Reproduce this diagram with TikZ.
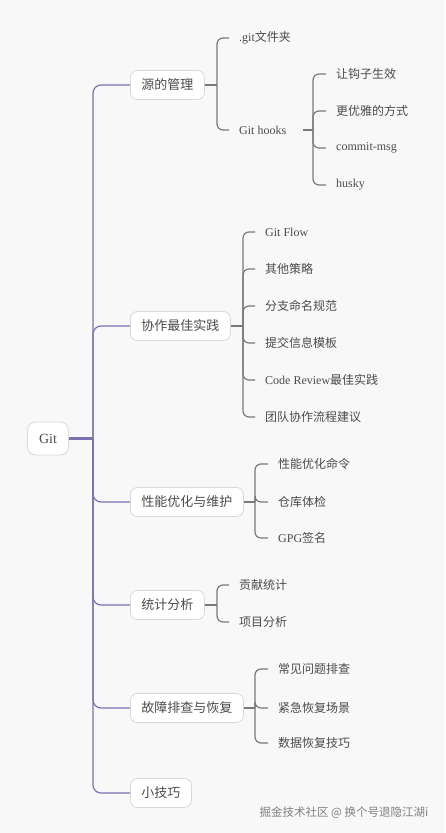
\documentclass[tikz,border=0pt]{standalone}
\usepackage{fontspec}
\setmainfont{Liberation Serif}
\newfontfamily\cjk{Noto Sans CJK SC}
\newcommand{\zh}[1]{{\cjk #1}}
\usetikzlibrary{calc,positioning}
\definecolor{bgcol}{HTML}{F8F8F8}
\definecolor{trunkcol}{HTML}{7B72B2}
\definecolor{branchcol}{HTML}{7A7A7A}
\definecolor{boxcol}{HTML}{D8D8D8}
\definecolor{txtcol}{HTML}{4B4B4B}

\tikzset{
  root/.style={draw=boxcol, fill=white, rounded corners=8pt, line width=0.8pt, minimum width=41pt, minimum height=33pt, text=txtcol, font=\fontsize{14}{16}\selectfont},
  topic/.style={draw=boxcol, fill=white, rounded corners=7pt, line width=0.8pt, inner xsep=11pt, minimum height=29pt, anchor=west, text=txtcol, font=\cjk\fontsize{13}{15}\selectfont},
  leaf/.style={inner xsep=10pt, inner ysep=2pt, anchor=west, text=txtcol, font=\fontsize{12}{14}\selectfont},
  trunk/.style={draw=trunkcol, line width=1.2pt, rounded corners=8pt},
  branch/.style={draw=branchcol, line width=1.2pt, rounded corners=6pt},
}

\begin{document}
\begin{tikzpicture}[x=1pt, y=-1pt]
    \fill[bgcol] (0,0) rectangle (445,833);

    \node (git) [root] at (48,438.5) {Git};

    \node (src) [topic] at (130,85) {源的管理};
    \node (collab) [topic] at (130,326) {协作最佳实践};
    \node (perf) [topic] at (130,502) {性能优化与维护};
    \node (stats) [topic] at (130,605) {统计分析};
    \node (fix) [topic] at (130,708) {故障排查与恢复};
    \node (tips) [topic] at (130,793) {小技巧};

    % leaves
    \node (gitdir) [leaf] at (229,38) {.git\zh{文件夹}};
    \node (hooks) [leaf] at (229,130) {Git hooks};

    \node (active) [leaf] at (326,74) {\zh{让钩子生效}};
    \node (elegant) [leaf] at (326,111) {\zh{更优雅的方式}};
    \node (cmsg) [leaf] at (326,148) {commit-msg};
    \node (husky) [leaf] at (326,185) {husky};

    \node (gitflow) [leaf] at (255,232) {Git Flow};
    \node (strategy) [leaf] at (255,269) {\zh{其他策略}};
    \node (naming) [leaf] at (255,306) {\zh{分支命名规范}};
    \node (msgtpl) [leaf] at (255,343) {\zh{提交信息模板}};
    \node (review) [leaf] at (255,380) {Code Review\zh{最佳实践}};
    \node (teamflow) [leaf] at (255,417) {\zh{团队协作流程建议}};

    \node (perfcmd) [leaf] at (268,464) {\zh{性能优化命令}};
    \node (health) [leaf] at (268,502) {\zh{仓库体检}};
    \node (gpg) [leaf] at (268,538) {GPG\zh{签名}};

    \node (contrib) [leaf] at (229,585) {\zh{贡献统计}};
    \node (project) [leaf] at (229,622) {\zh{项目分析}};

    \node (common) [leaf] at (268,669) {\zh{常见问题排查}};
    \node (urgent) [leaf] at (268,708) {\zh{紧急恢复场景}};
    \node (restore) [leaf] at (268,743) {\zh{数据恢复技巧}};

    \node (mark) [anchor=west, text=black!50, font=\cjk\fontsize{11.5}{13}\selectfont] at (256,813) {掘金技术社区 @ 换个号退隐江湖i};

    % junctions
    \coordinate (tj) at (93,438.5);
    \coordinate (srcj) at (217,85);
    \coordinate (hooksj) at (313,130);
    \coordinate (collabj) at (243,326);
    \coordinate (perfj) at (255,502);
    \coordinate (statsj) at (217,605);
    \coordinate (fixj) at (255,708);

    % Create edge connections
    \draw[trunk, line width=2.2pt] (git.east) -- (tj);
    \foreach \t in {src,collab,perf,stats,fix,tips}
        \draw[trunk] (tj) |- (\t.west);

    \draw[branch] (src.east) -- (srcj);
    \foreach \c in {gitdir,hooks}
        \draw[branch] (srcj) |- (\c.west);

    \draw[branch, shorten <=7pt] (hooks.east) -- (hooksj);
    \foreach \c in {active,elegant,cmsg,husky}
        \draw[branch] (hooksj) |- (\c.west);

    \draw[branch] (collab.east) -- (collabj);
    \foreach \c in {gitflow,strategy,naming,msgtpl,review,teamflow}
        \draw[branch] (collabj) |- (\c.west);

    \draw[branch] (perf.east) -- (perfj);
    \foreach \c in {perfcmd,health,gpg}
        \draw[branch] (perfj) |- (\c.west);

    \draw[branch] (stats.east) -- (statsj);
    \foreach \c in {contrib,project}
        \draw[branch] (statsj) |- (\c.west);

    \draw[branch] (fix.east) -- (fixj);
    \foreach \c in {common,urgent,restore}
        \draw[branch] (fixj) |- (\c.west);
\end{tikzpicture}
\end{document}
